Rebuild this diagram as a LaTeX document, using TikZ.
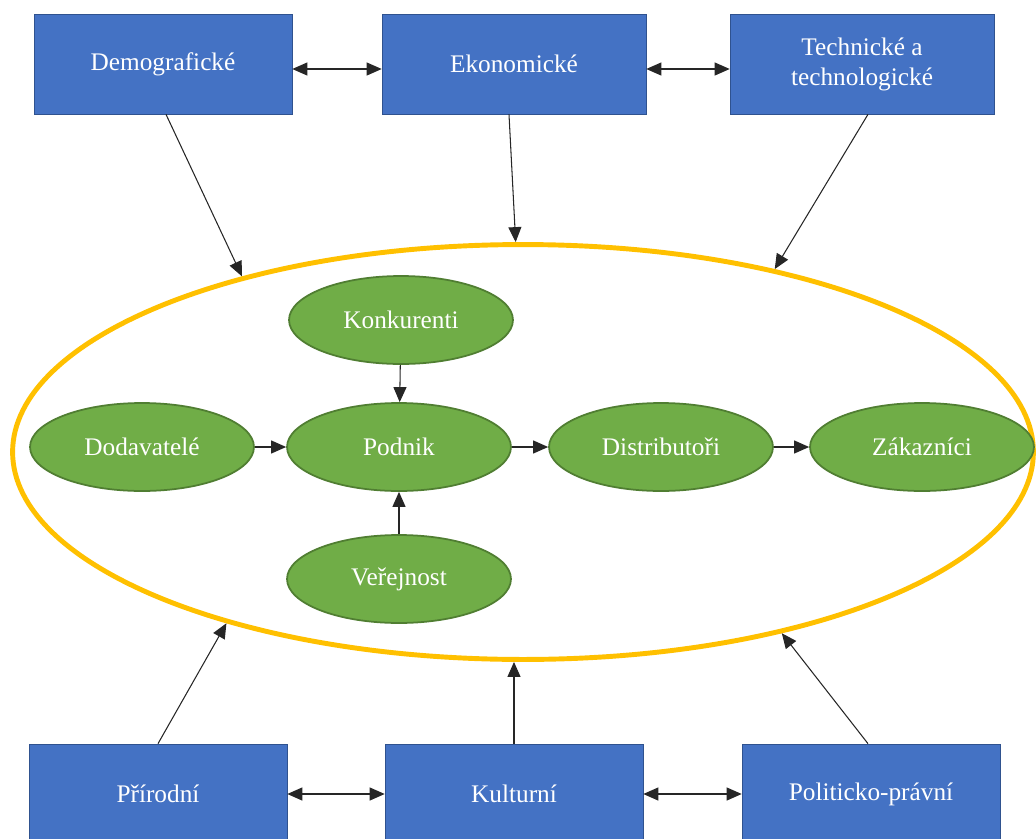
\documentclass[tikz,border=0pt]{standalone}
\usepackage{fontspec}
\setmainfont{Liberation Serif}
\usetikzlibrary{arrows.meta,shapes.geometric}
\definecolor{boxblue}{HTML}{4472C4}
\definecolor{boxline}{HTML}{2F528F}
\definecolor{elgreen}{HTML}{70AD47}
\definecolor{elline}{HTML}{507E32}
\definecolor{ringorange}{HTML}{FFC000}

\begin{document}
\begin{tikzpicture}[x=0.02cm,y=-0.02cm,font=\fontsize{14.4}{17}\selectfont,
    >={Triangle[length=0.3cm,width=0.26cm]}]

        \clip (0,0) rectangle (1036,839);

        \node[ellipse,draw=ringorange,line width=2.8pt,minimum width=20.42cm,minimum height=8.3cm] (okoli) at (523,452) {};

        \begin{scope}[every node/.style={rectangle,draw=boxline,fill=boxblue,text=white,
            minimum width=5.16cm,minimum height=2cm,align=center}]
          \node (demo)  at (163,64)   {Demografické};
          \node[minimum width=5.28cm] (ekon)  at (514,64) {Ekonomické};
          \node[minimum width=5.28cm] (tech)  at (862,64) {Technické a\\technologické};
          \node (prir)  at (158,794)  {Přírodní};
          \node (kult)  at (514,794)  {Kulturní};
          \node (polit) at (871,794)  {Politicko-právní};
        \end{scope}

        \begin{scope}[every node/.style={ellipse,draw=elline,line width=1pt,fill=elgreen,text=white,
            minimum width=4.48cm,minimum height=1.76cm,inner sep=0pt}]
          \node (konk)   at (401,320) {Konkurenti};
          \node (dodav)  at (142,447) {Dodavatelé};
          \node (podnik) at (399,447) {Podnik};
          \node (distr)  at (661,447) {Distributoři};
          \node (zak)    at (922,447) {Zákazníci};
          \node (verej)  at (399,579) {Veřejnost};
        \end{scope}

        \begin{scope}[every edge/.style={draw,black!85,line width=0.6pt,->}]
          \path (konk)   edge (podnik);
          \path (verej)  edge (podnik);
          \path (dodav)  edge (podnik);
          \path (podnik) edge (distr);
          \path (distr)  edge (zak);

          \path ([xshift=0.06cm]demo.south)   edge (okoli.148.6);
          \path ([xshift=-0.1cm]ekon.south)   edge (okoli.92.5);
          \path ([xshift=0.12cm]tech.south)   edge (okoli.36.5);
          \path (prir.north)                  edge (okoli.210.9);
          \path (kult.north)                  edge (kult.north |- okoli.south);
          \path ([xshift=-0.06cm]polit.north) edge (okoli.325.6);

          \path ([yshift=-0.1cm]demo.east) edge[<->] ([yshift=-0.1cm]ekon.west);
          \path ([yshift=-0.1cm]ekon.east) edge[<->] ([yshift=-0.1cm]tech.west);
          \path (prir.east) edge[<->] (kult.west);
          \path (kult.east) edge[<->] (polit.west);
        \end{scope}

      \end{tikzpicture}
\end{document}
